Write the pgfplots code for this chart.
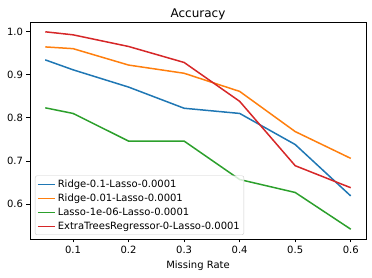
\documentclass[border=0pt]{standalone}
\usepackage{fontspec}
\setmainfont{DejaVu Sans}
\usepackage{pgfplots}
\pgfplotsset{compat=1.18}
\definecolor{tabblue}{HTML}{1F77B4}
\definecolor{taborange}{HTML}{FF7F0E}
\definecolor{tabgreen}{HTML}{2CA02C}
\definecolor{tabred}{HTML}{D62728}
\newcommand{\tenpt}{\fontsize{10pt}{12pt}\selectfont}
\newcommand{\twelvept}{\fontsize{12pt}{14pt}\selectfont}
\begin{document}
\begin{tikzpicture}
\useasboundingbox (0,0) rectangle (372pt,278pt);
\begin{axis}[
  at={(30pt,39pt)}, anchor=south west,
  scale only axis, width=336pt, height=217pt,
  xmin=0.0225, xmax=0.6275, ymin=0.5193, ymax=1.0217,
  xtick={0.1,0.2,0.3,0.4,0.5,0.6},
  ytick={0.6,0.7,0.8,0.9,1.0},
  xticklabel style={/pgf/number format/.cd, fixed, fixed zerofill, precision=1},
  yticklabel style={/pgf/number format/.cd, fixed, fixed zerofill, precision=1},
  /pgf/number format/assume math mode=true,
  tick label style={font=\tenpt},
  tick align=outside, major tick length=3.5pt,
  xtick pos=bottom, ytick pos=left,
  tick style={line width=0.8pt, black},
  axis line style={line width=0.8pt},
  title={Accuracy},
  title style={font=\twelvept, yshift=-8pt},
  xlabel={Missing Rate},
  xlabel style={font=\tenpt},
  legend cell align=left,
  legend style={at={(0,0)}, anchor=south west, xshift=5pt, yshift=4pt,
    font=\tenpt, draw=black!20, rounded corners=2pt,
    fill=white, fill opacity=0.8, text opacity=1, inner sep=2pt,
    row sep=1pt},
  legend image post style={line width=1.5pt},
  every axis plot/.append style={line width=1.5pt},
]
\addplot[tabblue] coordinates {(0.05,0.934) (0.1,0.911) (0.2,0.871) (0.3,0.822) (0.4,0.810) (0.5,0.738) (0.6,0.619)};
\addlegendentry{Ridge-0.1-Lasso-0.0001}
\addplot[taborange] coordinates {(0.05,0.964) (0.1,0.960) (0.2,0.922) (0.3,0.903) (0.4,0.861) (0.5,0.768) (0.6,0.706)};
\addlegendentry{Ridge-0.01-Lasso-0.0001}
\addplot[tabgreen] coordinates {(0.05,0.823) (0.1,0.810) (0.2,0.746) (0.3,0.746) (0.4,0.657) (0.5,0.627) (0.6,0.542)};
\addlegendentry{Lasso-1e-06-Lasso-0.0001}
\addplot[tabred] coordinates {(0.05,0.999) (0.1,0.992) (0.2,0.965) (0.3,0.928) (0.4,0.838) (0.5,0.689) (0.6,0.638)};
\addlegendentry{ExtraTreesRegressor-0-Lasso-0.0001}
\end{axis}
\end{tikzpicture}
\end{document}
